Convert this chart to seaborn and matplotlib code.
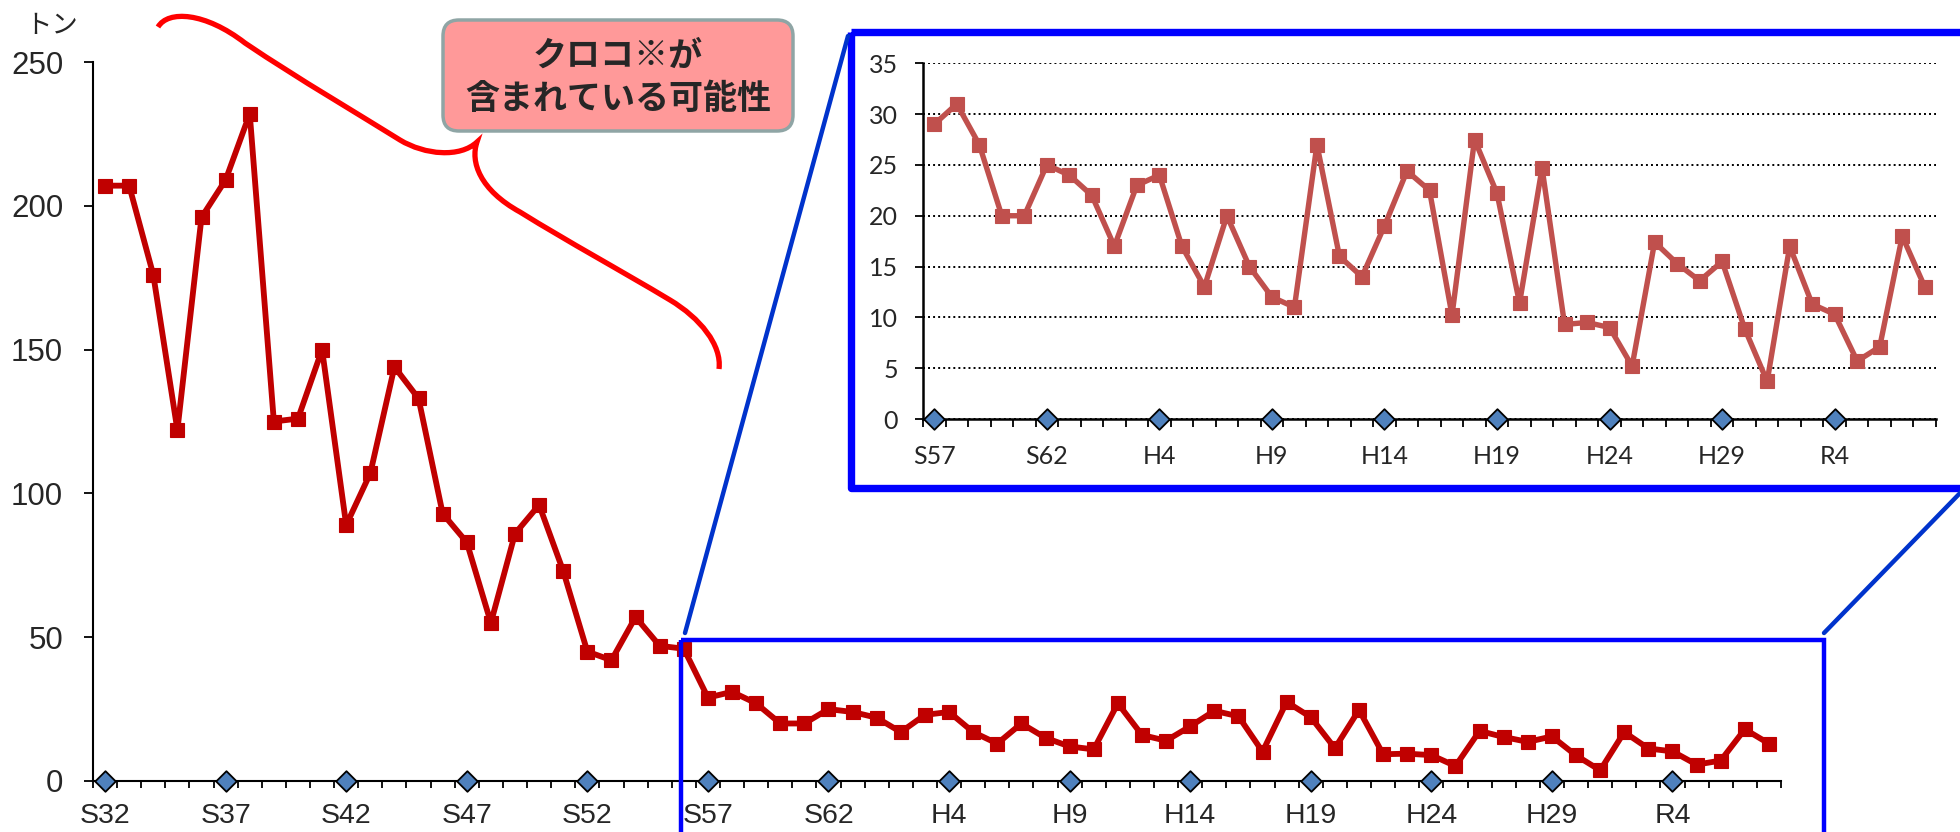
import numpy as np
import pandas as pd
import matplotlib
matplotlib.use("Agg")
import matplotlib.pyplot as plt
import seaborn as sns
from matplotlib.patches import Rectangle, FancyBboxPatch, PathPatch
from matplotlib.path import Path
from matplotlib.lines import Line2D
from matplotlib.transforms import Affine2D

# catch (tons), S32-S56
catch_early = [207, 207, 176, 122, 196, 209, 232, 125, 126, 150,
               89, 107, 144, 133, 93, 83, 55, 86, 96, 73,
               45, 42, 57, 47, 46]
# catch (tons), S57 onwards (shown enlarged in the inset)
catch_recent = [29, 31, 27, 20, 20, 25, 24, 22, 17, 23,
                24, 17, 13, 20, 15, 12, 11, 27, 16, 14,
                19, 24.4, 22.5, 10.2, 27.5, 22.2, 11.4, 24.7, 9.3, 9.5,
                9.0, 5.2, 17.4, 15.3, 13.6, 15.5, 8.9, 3.7, 17.0, 11.3,
                10.3, 5.7, 7.1, 18.0, 13.0]
main_labels = ['S32', 'S37', 'S42', 'S47', 'S52', 'S57', 'S62',
               'H4', 'H9', 'H14', 'H19', 'H24', 'H29', 'R4']
inset_labels = ['S57', 'S62', 'H4', 'H9', 'H14', 'H19', 'H24', 'H29', 'R4']
main_yticks = [0, 50, 100, 150, 200, 250]
inset_yticks = [0, 5, 10, 15, 20, 25, 30, 35]

sns.set_theme(style="ticks")
plt.rcParams['font.family'] = ['Liberation Sans', 'Noto Sans CJK JP', 'DejaVu Sans']

W, H = 1960, 832
fig = plt.figure(figsize=(W / 100, H / 100), dpi=100)
px = Affine2D().scale(1, -1).translate(0, H)  # pixel coords, y down


def fx(x):
    return x / W


def fy(y):
    return 1 - y / H


# ---- main chart
catch = catch_early + catch_recent
df = pd.DataFrame({'idx': np.arange(len(catch)), 'catch': catch})
marks = df[df.idx % 5 == 0].assign(zero=0)

ax = fig.add_axes([fx(93), fy(781), (1781 - 93) / W, (781 - 62) / H])
sns.lineplot(data=df, x='idx', y='catch', ax=ax, color='#C00000', lw=4.2,
             marker='s', markersize=10, markeredgecolor='#C00000',
             markeredgewidth=0.8)
sns.scatterplot(data=marks, x='idx', y='zero', ax=ax, marker='D', s=110,
                color='#4F81BD', edgecolor='black', linewidth=1.3,
                zorder=5, clip_on=False)
ax.set_xlim(-0.5, len(catch) - 0.5)
ax.set_ylim(0, 250)
ax.set_xticks(marks.idx)
ax.set_xticklabels(main_labels)
ax.set_xticks(np.arange(-0.5, len(catch), 1), minor=True)
ax.set_yticks(main_yticks)
ax.tick_params(axis='x', which='major', length=0, pad=16, labelsize=20.5)
ax.tick_params(axis='x', which='minor', length=5, width=1.3, color='black')
ax.tick_params(axis='y', length=6.5, width=1.3, color='black', pad=15, labelsize=22.5)
ax.set_xlabel('')
ax.set_ylabel('')
sns.despine(ax=ax)
for s in ['left', 'bottom']:
    ax.spines[s].set_linewidth(1.5)
    ax.spines[s].set_color('black')
ax.patch.set_alpha(0)

# ---- inset
dfr = pd.DataFrame({'idx': np.arange(len(catch_recent)), 'catch': catch_recent})
marks_r = dfr[dfr.idx % 5 == 0].assign(zero=0)

ax2 = fig.add_axes([fx(923), fy(419), (1936 - 923) / W, (419 - 63.3) / H])
ax2.set_facecolor('white')
ax2.set_axisbelow(True)
ax2.yaxis.grid(True, linestyle=(0, (1, 1.6)), color='black', lw=1.4)
sns.lineplot(data=dfr, x='idx', y='catch', ax=ax2, color='#C0504D', lw=3.9,
             marker='s', markersize=10, markeredgecolor='#C0504D',
             markeredgewidth=0.8)
sns.scatterplot(data=marks_r, x='idx', y='zero', ax=ax2, marker='D', s=110,
                color='#4F81BD', edgecolor='black', linewidth=1.3,
                zorder=5, clip_on=False)
ax2.set_xlim(-0.5, len(catch_recent) - 0.5)
ax2.set_ylim(0, 35)
ax2.set_xticks(marks_r.idx)
ax2.set_xticklabels(inset_labels)
ax2.set_xticks(np.arange(-0.5, len(catch_recent), 1), minor=True)
ax2.set_yticks(inset_yticks)
ax2.tick_params(axis='x', which='major', length=0, pad=19, labelsize=18)
ax2.tick_params(axis='x', which='minor', length=6, width=1.3, color='black')
ax2.tick_params(axis='y', length=6, width=1.3, color='black', pad=12, labelsize=18)
for lbl in ax2.get_xticklabels() + ax2.get_yticklabels():
    lbl.set_family('Lato')
ax2.set_xlabel('')
ax2.set_ylabel('')
sns.despine(ax=ax2)
for s in ['left', 'bottom']:
    ax2.spines[s].set_linewidth(1.8)
    ax2.spines[s].set_color('black')

# ---- zoom frames and connectors
fig.add_artist(Rectangle((681, 640), 1824 - 681, 220, transform=px, fill=False,
                         edgecolor='#0000FF', lw=3.2, zorder=10))
fig.add_artist(Rectangle((851, 32), 1150, 488 - 32, transform=px, fill=False,
                         edgecolor='#0000FF', lw=5.3, joinstyle='round', zorder=10))
fig.add_artist(Line2D([685, 848], [633, 36], transform=px, color='#0033CC', lw=3.2, zorder=10))
fig.add_artist(Line2D([1824, 1964], [633, 489], transform=px, color='#0033CC', lw=3.2, zorder=10))

# ---- brace
verts = [(158, 27), (168, 10), (205, 12), (245, 43),
         (300, 80), (360, 115), (400, 140),
         (425, 155), (460, 158), (477, 142),
         (470, 162), (480, 190), (520, 212),
         (570, 243), (620, 270), (670, 300),
         (700, 318), (722, 345), (719, 369)]
codes = [Path.MOVETO] + [Path.CURVE4] * (len(verts) - 1)
fig.add_artist(PathPatch(Path(verts, codes), transform=px, fill=False,
                         edgecolor='#FF0000', lw=3.8, capstyle='butt', zorder=9))

# ---- callout box
fig.add_artist(FancyBboxPatch((443, 20), 350, 111, transform=px,
                              boxstyle='round,pad=0,rounding_size=16',
                              facecolor='#FF9999', edgecolor='#8FA5A5', lw=2.5, zorder=9))
cjk = ['Noto Sans CJK JP', 'DejaVu Sans']
fig.text(618, 55, 'クロコ※が', transform=px, ha='center', va='center',
         fontsize=24.5, fontweight='bold', family=cjk, zorder=11)
fig.text(618, 98, '含まれている可能性', transform=px, ha='center', va='center',
         fontsize=24.5, fontweight='bold', family=cjk, zorder=11)

fig.text(52, 25, 'トン', transform=px, ha='center', va='center', fontsize=19, family=cjk)

fig.savefig('out.png', dpi=100)
